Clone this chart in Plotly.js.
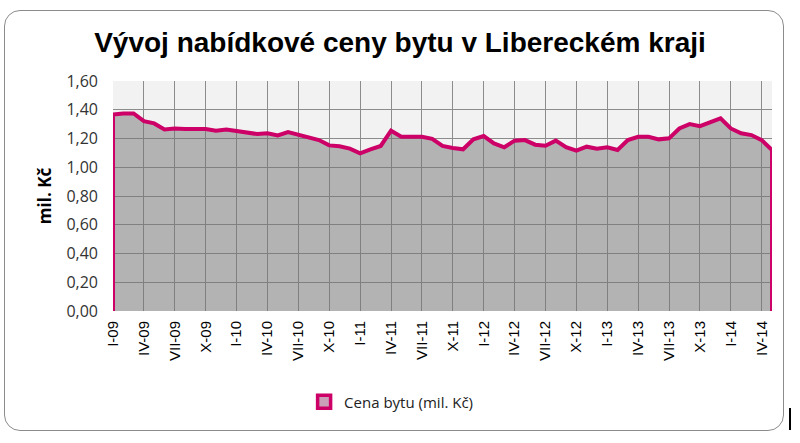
<!DOCTYPE html>
<html>
<head>
<meta charset="utf-8">
<script src="https://cdn.plot.ly/plotly-3.0.1.min.js"></script>
<style>
html,body{margin:0;padding:0;background:#fff;}
#wrap{position:relative;width:800px;height:443px;}
#chart{width:800px;height:443px;}
#frame{position:absolute;left:4px;top:10px;width:780px;height:421px;border:1.5px solid #8c8c8c;border-radius:16px;pointer-events:none;box-sizing:border-box;}
#bar{position:absolute;left:789px;top:408px;width:2px;height:22px;background:#000;}
</style>
</head>
<body>
<div id="wrap"><div id="chart"></div><div id="frame"></div><div id="bar"></div></div>
<script>
// Months I-09 .. V-14 (65 monthly values)
const romans = ["I","II","III","IV","V","VI","VII","VIII","IX","X","XI","XII"];
const years = ["09","10","11","12","13","14"];
const months = [];
years.forEach(function(yy){ romans.forEach(function(r){ months.push(r + "-" + yy); }); });
const categories = months.slice(0, 65);

const prices = [
  1.367, 1.374, 1.374, 1.321, 1.305, 1.263, 1.270, 1.266, 1.266, 1.266,
  1.254, 1.263, 1.252, 1.240, 1.231, 1.236, 1.222, 1.245, 1.226, 1.208,
  1.189, 1.152, 1.146, 1.130, 1.097, 1.125, 1.148, 1.254, 1.212, 1.212,
  1.212, 1.198, 1.148, 1.134, 1.125, 1.194, 1.217, 1.166, 1.139, 1.185,
  1.189, 1.157, 1.150, 1.185, 1.139, 1.115, 1.143, 1.129, 1.139, 1.120,
  1.189, 1.212, 1.212, 1.194, 1.201, 1.270, 1.300, 1.286, 1.310, 1.340,
  1.270, 1.236, 1.224, 1.189, 1.120
];
const seriesName = "Cena bytu (mil. Kč)";

const tickIdx = [];
const tickLabels = [];
for (let i = 0; i < categories.length; i += 3) { tickIdx.push(i); tickLabels.push(categories[i]); }

const idx = categories.map(function(_, i){ return i; });
const last = idx.length - 1;
// closed outline of the area (baseline at zero, like the original area chart)
const xs = [idx[0]].concat(idx).concat([idx[last]]);
const ys = [0].concat(prices).concat([0]);

const area = {
  x: xs, y: ys,
  type: "scatter", mode: "lines",
  fill: "toself",
  fillcolor: "rgba(116,116,116,0.5)",
  line: {color: "#cc0066", width: 4, shape: "linear"},
  name: seriesName,
  showlegend: false,
  hoverinfo: "skip"
};
// legend key (square swatch as in the original)
const key = {
  x: [null], y: [null],
  type: "scatter", mode: "markers",
  marker: {symbol: "square", size: 13, color: "#c9a0b8", line: {color: "#cc0066", width: 3.5}},
  name: seriesName,
  showlegend: true
};

const layout = {
  width: 800, height: 443,
  margin: {l: 113, r: 28, t: 81, b: 131.5},
  paper_bgcolor: "rgba(0,0,0,0)",
  plot_bgcolor: "#f2f2f2",
  separators: ",.",
  title: {
    text: "<b>Vývoj nabídkové ceny bytu v Libereckém kraji</b>",
    font: {family: "Liberation Sans, Arial, sans-serif", size: 28, color: "#000"},
    x: 0.5, xanchor: "center", xref: "container",
    y: 1 - 42/443, yanchor: "middle", yref: "container"
  },
  showlegend: true,
  legend: {
    x: 0.422, xanchor: "center", y: -0.396, yanchor: "middle",
    orientation: "h",
    font: {family: "Open Sans, sans-serif", size: 15, color: "#222"},
    bgcolor: "rgba(0,0,0,0)",
    itemwidth: 30
  },
  xaxis: {
    range: [0, last],
    tickmode: "array", tickvals: tickIdx, ticktext: tickLabels,
    tickangle: -90,
    tickfont: {family: "Liberation Sans, Arial, sans-serif", size: 15, color: "#000"},
    showgrid: true, gridcolor: "#8c8c8c", gridwidth: 1,
    zeroline: false, showline: false, ticks: "",
    ticklabelstandoff: 6,
    fixedrange: true
  },
  yaxis: {
    range: [0, 1.6], dtick: 0.2, tick0: 0,
    tickformat: ".2f",
    tickfont: {family: "Open Sans, sans-serif", size: 16, color: "#333"},
    showgrid: true, gridcolor: "#8c8c8c", gridwidth: 1,
    zeroline: false, showline: false, ticks: "",
    ticklabelstandoff: 14,
    title: {text: "<b>mil. Kč</b>", font: {family: "Open Sans, sans-serif", size: 17, color: "#000"}, standoff: 10},
    fixedrange: true
  }
};

Plotly.newPlot("chart", [area, key], layout, {displayModeBar: false, staticPlot: true});
</script>
</body>
</html>
